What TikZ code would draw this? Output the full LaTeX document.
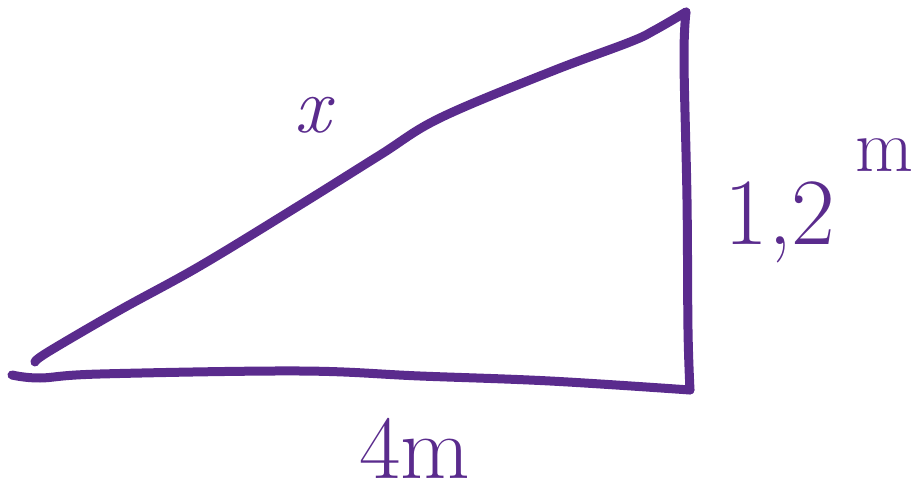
\documentclass[tikz,border=0pt]{standalone}
\definecolor{pen}{HTML}{5A2B8D}
\begin{document}
\begin{tikzpicture}[x=1pt,y=-1pt,
  stroke/.style={draw=pen,line width=9pt,line cap=round,line join=round},
  lbl/.style={text=pen,inner sep=0pt,font=\fontsize{80}{80}\selectfont}]
\useasboundingbox (0,0) rectangle (918,500);
\coordinate (A) at (35,362);
\coordinate (B) at (686,12);
\coordinate (C) at (690,390);
\coordinate (D) at (12,375);
\draw[stroke] plot[smooth,tension=0.6] coordinates {(35,362) (48,352) (120,310) (200,266) (300,205) (380,155) (440,118) (550,72) (630,42) (655,30) (686,12)};
\draw[stroke] plot[smooth,tension=0.6] coordinates {(686,12) (684,60) (687,200) (688,330) (690,390)};
\draw[stroke] plot[smooth,tension=0.6] coordinates {(12,375) (40,378) (100,374) (300,371) (420,376) (550,381) (690,390)};
\node[lbl] (lx) at (315,115) {\textit{x}};
\node[lbl,font=\fontsize{90}{90}\selectfont] (lb) at (415,448) {4m};
\node[lbl,font=\fontsize{95}{95}\selectfont] (lr) at (780,222) {1,2};
\node[lbl,font=\fontsize{75}{75}\selectfont] (lm) at (884,155) {m};
\end{tikzpicture}
\end{document}
